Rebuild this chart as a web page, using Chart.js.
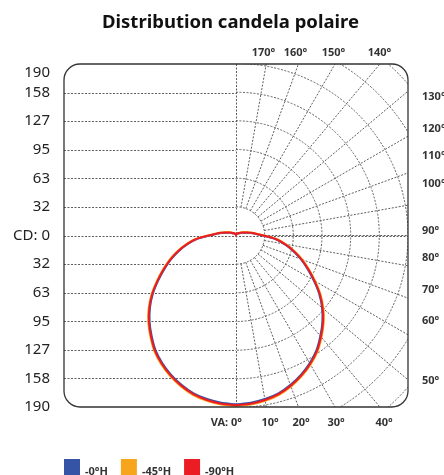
<!DOCTYPE html>
<html>
<head>
<meta charset="utf-8">
<script src="https://cdn.jsdelivr.net/npm/chart.js@4.4.1/dist/chart.umd.min.js"></script>
<style>
html, body { margin: 0; padding: 0; background: #fff; }
#wrap { width: 444px; height: 475px; }
</style>
</head>
<body>
<div id="wrap"><canvas id="polar" width="444" height="475"></canvas></div>
<script>
// angles (deg from nadir) and candela values
const angles = [0, 5, 10, 15, 20, 25, 30, 35, 40, 45, 50, 55, 60, 65, 70, 75, 80, 85, 90,
    95, 100, 105, 110, 115, 120, 125, 130, 135, 140, 145, 150, 155, 160, 165, 170, 175, 180];
const cd0H = [187, 186, 184, 181, 176, 170, 163, 155, 145, 135, 124, 112, 99, 87, 76, 65, 54, 43, 29,
    21, 16, 12, 9, 7, 5, 4, 4, 3, 3, 2, 2, 2, 2, 1, 1, 1, 0];
const cd45H = [189, 188, 186, 183, 178, 172, 165, 157, 147, 137, 126, 114, 101, 89, 78, 67, 56, 45, 31,
    23, 18, 14, 11, 9, 7, 6, 5, 4, 3, 3, 2, 2, 2, 1, 1, 1, 0];
const cd90H = [188, 187, 185, 182, 177, 171, 164, 156, 146, 136, 125, 113, 100, 88, 77, 66, 55, 44, 30,
    22, 17, 13, 10, 8, 6, 5, 4, 4, 3, 3, 2, 2, 2, 1, 1, 1, 0];

const seriesNames = ['-0°H', '-45°H', '-90°H'];
const seriesColors = ['#3654a5', '#f7a61c', '#ec1c24'];

// candela ticks (190 / 6 steps) and polar grid
const cdTicks = [-190, -158.3, -126.7, -95, -63.3, -31.7, 0, 31.7, 63.3, 95, 126.7, 158.3, 190];
const ringValues = [31.7, 63.3, 95, 126.7, 158.3, 190, 221.7, 253.3];
const spokeAngles = [10, 20, 30, 40, 50, 60, 70, 80, 90, 100, 110, 120, 130, 140, 150, 160, 170];
const angleLabels = [0, 10, 20, 30, 40, 50, 60, 70, 80, 90, 100, 110, 120, 130, 140, 150, 160, 170];

const rad = d => d * Math.PI / 180;

// right half 0..180, then mirrored left half back to 0
function toPoints(vals) {
    const pts = angles.map((a, i) => ({ x: vals[i] * Math.sin(rad(a)), y: -vals[i] * Math.cos(rad(a)) }));
    for (let i = angles.length - 2; i >= 0; i--) {
        pts.push({ x: -vals[i] * Math.sin(rad(angles[i])), y: -vals[i] * Math.cos(rad(angles[i])) });
    }
    return pts;
}

const polarGrid = {
    id: 'polarGrid',
    beforeDatasetsDraw(chart) {
        const { ctx, chartArea: a, scales: { x, y } } = chart;
        const cx = x.getPixelForValue(0), cy = y.getPixelForValue(0);
        const k = x.getPixelForValue(100) - cx;
        ctx.save();
        ctx.beginPath();
        ctx.roundRect(a.left, a.top, a.right - a.left, a.bottom - a.top, 16);
        ctx.clip();
        ctx.strokeStyle = '#5e5e5e';
        ctx.lineWidth = 1;
        ctx.setLineDash([2, 1.5]);

        // horizontal lines, left half only
        cdTicks.forEach(v => {
            if (Math.abs(v) >= 190) return;
            const py = Math.round(y.getPixelForValue(v)) + 0.5;
            ctx.beginPath();
            ctx.moveTo(a.left, py);
            ctx.lineTo(v === 0 ? a.right : cx, py);
            ctx.stroke();
        });
        // vertical axis
        const vx = Math.round(cx) + 0.5;
        ctx.beginPath();
        ctx.moveTo(vx, a.top);
        ctx.lineTo(vx, a.bottom);
        ctx.stroke();

        // rings
        ringValues.forEach(r => {
            ctx.beginPath();
            ctx.arc(cx, cy, r * k / 100, -Math.PI / 2, Math.PI / 2);
            ctx.stroke();
        });
        // spokes
        const r0 = ringValues[0] * k / 100;
        spokeAngles.forEach(d => {
            const s = Math.sin(rad(d)), c = Math.cos(rad(d));
            ctx.beginPath();
            ctx.moveTo(cx + r0 * s, cy + r0 * c);
            ctx.lineTo(cx + 400 * s, cy + 400 * c);
            ctx.stroke();
        });
        ctx.restore();
    },
    afterDraw(chart) {
        const { ctx, chartArea: a, scales: { x } } = chart;
        const cx = x.getPixelForValue(0);
        ctx.save();
        // frame
        ctx.strokeStyle = '#333';
        ctx.lineWidth = 1.3;
        ctx.beginPath();
        ctx.roundRect(a.left, a.top, a.right - a.left, a.bottom - a.top, 16);
        ctx.stroke();

        // angle labels
        ctx.font = 'bold 11px "Noto Sans"';
        ctx.fillStyle = '#333';
        ctx.textBaseline = 'middle';
        const bottomX = { 0: cx + 0.5, 10: 270, 20: 301, 30: 336, 40: 384 };
        const rightY = { 50: 381, 60: 321, 70: 290, 80: 258, 90: 231, 100: 184, 110: 156, 120: 129, 130: 97 };
        const topX = { 140: 379.5, 150: 333.5, 160: 295.5, 170: 263.5 };
        angleLabels.forEach(d => {
            const t = d + '°';
            if (d in bottomX) {
                ctx.textAlign = 'center';
                ctx.fillText(t, bottomX[d], a.bottom + 16);
                if (d === 0) {
                    ctx.textAlign = 'right';
                    ctx.fillText('VA: ', bottomX[d] - ctx.measureText(t).width / 2, a.bottom + 16);
                }
            } else if (d in rightY) {
                ctx.textAlign = 'left';
                ctx.fillText(t, a.right + 14, rightY[d]);
            } else if (d in topX) {
                ctx.textAlign = 'center';
                ctx.fillText(t, topX[d], a.top - 11.5);
            }
        });

        // legend
        let lx = a.left;
        ctx.textAlign = 'left';
        ctx.textBaseline = 'alphabetic';
        chart.data.datasets.forEach(ds => {
            ctx.fillStyle = ds.borderColor;
            ctx.fillRect(lx, 459, 16, 16);
            ctx.fillStyle = '#333';
            ctx.fillText(ds.label, lx + 21, 474.5);
            lx += 16 + 5 + ctx.measureText(ds.label).width + 13;
        });
        ctx.restore();
    }
};

const seriesValues = [cd0H, cd45H, cd90H];
new Chart(document.getElementById('polar'), {
    type: 'scatter',
    data: {
        datasets: seriesValues.map((vals, i) => ({
            label: seriesNames[i],
            data: toPoints(vals),
            showLine: true,
            borderColor: seriesColors[i],
            backgroundColor: seriesColors[i],
            borderWidth: 2,
            pointRadius: 0,
            tension: 0.3,
            order: 2 - i
        }))
    },
    options: {
        responsive: false,
        animation: false,
        devicePixelRatio: 1,
        // negative right padding shifts the title centre to the right
        layout: { padding: { left: 0, right: -17, top: 0, bottom: 68 } },
        scales: {
            x: { type: 'linear', min: -190, max: 190, display: false },
            y: {
                type: 'linear', min: -190, max: 190,
                grid: { display: false, drawTicks: false },
                border: { display: false },
                afterBuildTicks: s => { s.ticks = cdTicks.map(v => ({ value: v })); },
                afterFit: s => { s.width = 64; },
                ticks: {
                    autoSkip: false,
                    padding: 14,
                    color: '#222',
                    font: { family: 'Noto Sans', size: 15 },
                    callback: v => {
                        const n = Math.round(Math.abs(v));
                        if (n === 0) return 'CD: 0';
                        // top label sits a little below the frame edge
                        return v >= 190 ? ['', String(n)] : String(n);
                    }
                }
            },
            // empty right axis reserving room for the angle labels
            yRight: {
                type: 'linear', position: 'right', min: -190, max: 190,
                grid: { display: false, drawTicks: false },
                border: { display: false },
                ticks: { display: false },
                afterFit: s => { s.width = 53; }
            }
        },
        plugins: {
            legend: { display: false },
            tooltip: { enabled: false },
            title: {
                display: true,
                text: 'Distribution candela polaire',
                color: '#111',
                font: { family: 'Noto Sans', size: 18.5, weight: 'bold' },
                padding: { top: 12, bottom: 29.8 }
            }
        }
    },
    plugins: [polarGrid]
});
</script>
</body>
</html>
